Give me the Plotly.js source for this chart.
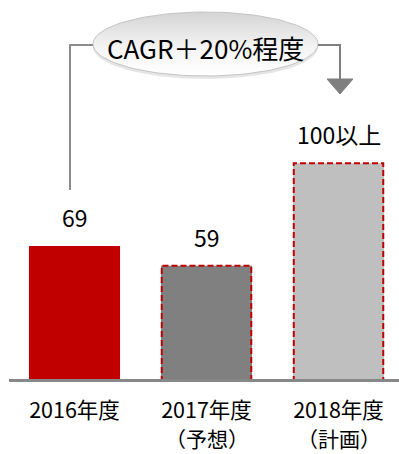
<!DOCTYPE html>
<html>
<head>
<meta charset="utf-8">
<script src="https://cdn.plot.ly/plotly-3.0.1.min.js"></script>
<style>
  html, body { margin: 0; padding: 0; background: #ffffff; }
  #chart { width: 399px; height: 454px; }
</style>
</head>
<body>
<div id="chart"></div>
<script>
// Fiscal-year figures
const categories = ["2016年度", "2017年度", "2018年度"];
const subLabels = ["", "（予想）", "（計画）"];
const values = [69, 59, 111];
const valueLabels = ["69", "59", "100以上"];
const barColors = ["#c00000", "#808080", "#bfbfbf"];
const dashedOutline = [false, true, true];
const growthNote = "CAGR＋20%程度";

const FONT = '"Noto Sans CJK JP", "Noto Sans", sans-serif';
const W = 399, H = 454;
const M = { l: 9, r: 0, t: 0, b: 72 };
const PLOT_H = H - M.t - M.b;
const BAR_W = 0.69;
const idx = categories.map((_, i) => i);

const traces = [];

// Bars
traces.push({
  type: "bar",
  x: idx,
  y: values,
  width: BAR_W,
  marker: { color: barColors, line: { width: 0 } },
  hoverinfo: "skip",
  showlegend: false
});

// Dashed red outlines for forecast / plan bars
idx.forEach(i => {
  if (!dashedOutline[i]) return;
  const x0 = i - BAR_W / 2 + 0.006, x1 = i + BAR_W / 2 - 0.006;
  traces.push({
    type: "scatter",
    mode: "lines",
    x: [x0, x0, x1, x1],
    y: [0, values[i], values[i], 0],
    line: { color: "#c00000", width: 2, dash: "6px,3px" },
    hoverinfo: "skip",
    showlegend: false
  });
});

// Callout bubble (drawn on a pixel-scaled overlay axis pair)
const cx = 205.5, cy = 44, rx = 112.5, ry = 32;
function ellipse(dx, dy) {
  const xs = [], ys = [];
  for (let k = 0; k <= 120; k++) {
    const t = (k / 120) * 2 * Math.PI;
    xs.push(cx + dx + rx * Math.cos(t));
    ys.push(cy + dy + ry * Math.sin(t));
  }
  return { xs, ys };
}
const sh = ellipse(0, 3);
traces.push({
  type: "scatter", mode: "lines", xaxis: "x2", yaxis: "y2",
  x: sh.xs, y: sh.ys, fill: "toself",
  fillcolor: "rgba(0,0,0,0.10)", line: { width: 0 },
  hoverinfo: "skip", showlegend: false
});
const el = ellipse(0, 0);
traces.push({
  type: "scatter", mode: "lines", xaxis: "x2", yaxis: "y2",
  x: el.xs, y: el.ys, fill: "toself",
  fillcolor: "#eeeeee",
  fillgradient: {
    type: "vertical",
    colorscale: [[0, "#ffffff"], [0.45, "#f4f4f4"], [1, "#d4d4d4"]]
  },
  line: { color: "#c4c4c4", width: 1 },
  hoverinfo: "skip", showlegend: false
});

const yTop = PLOT_H / 1.971;

const layout = {
  width: W,
  height: H,
  margin: M,
  paper_bgcolor: "#ffffff",
  plot_bgcolor: "rgba(0,0,0,0)",
  showlegend: false,
  font: { family: FONT, color: "#000000" },
  xaxis: {
    range: [-0.4962, 2.4583],
    tickvals: idx,
    ticktext: categories,
    ticks: "",
    showgrid: false,
    zeroline: false,
    showline: false,
    ticklabelstandoff: 13,
    tickfont: { family: FONT, size: 21.5, color: "#000000" },
    fixedrange: true
  },
  yaxis: {
    range: [0, yTop],
    visible: false,
    showgrid: false,
    zeroline: false,
    fixedrange: true
  },
  xaxis2: { overlaying: "x", range: [M.l, W - M.r], visible: false, fixedrange: true },
  yaxis2: { overlaying: "y", range: [PLOT_H, 0], visible: false, fixedrange: true },
  shapes: [
    // baseline
    {
      type: "line", xref: "x2", yref: "y2", layer: "above",
      x0: 9, x1: 399, y0: 381.5, y1: 381.5,
      line: { color: "#888888", width: 5 }
    },
    // connector from first bar to bubble
    {
      type: "path", xref: "x2", yref: "y2",
      path: "M70,190 L70,45 L93,45",
      line: { color: "#8c8c8c", width: 2 }
    },
    // connector from bubble toward last bar
    {
      type: "path", xref: "x2", yref: "y2",
      path: "M318,45 L340,45 L340,80",
      line: { color: "#808080", width: 2 }
    },
    // arrow head
    {
      type: "path", xref: "x2", yref: "y2",
      path: "M327,79 L353,79 L340,94 Z",
      fillcolor: "#7f7f7f",
      line: { color: "#7f7f7f", width: 1 }
    }
  ],
  annotations: [
    // value labels above the bars
    ...idx.map(i => ({
      x: i, y: values[i], xref: "x", yref: "y",
      text: valueLabels[i],
      showarrow: false,
      yanchor: "bottom",
      yshift: 10,
      font: { family: FONT, size: 23, color: "#000000" }
    })),
    // second line of the category labels
    ...idx.filter(i => subLabels[i]).map(i => ({
      x: i, xref: "x",
      y: (PLOT_H - 454) / PLOT_H, yref: "paper",
      yanchor: "bottom",
      borderpad: 0,
      text: subLabels[i],
      showarrow: false,
      font: { family: FONT, size: 21, color: "#000000" }
    })),
    {
      x: cx, y: cy + 3, xref: "x2", yref: "y2",
      text: growthNote,
      showarrow: false,
      font: { family: FONT, size: 26, color: "#000000" }
    }
  ]
};

Plotly.newPlot("chart", traces, layout, { displayModeBar: false, staticPlot: true });
</script>
</body>
</html>
